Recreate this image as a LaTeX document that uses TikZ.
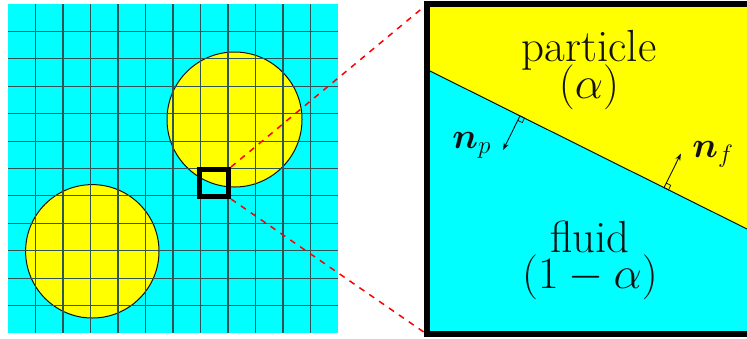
\RequirePackage{fix-cm}
\documentclass[tikz,border=0pt]{standalone}
\usepackage{tikz}
\usepackage{xcolor}
\usepackage{bm}
\usetikzlibrary{arrows.meta,calc}
\definecolor{Fluid}{HTML}{00FFFF}
\definecolor{Particle}{HTML}{FFFF00}
\definecolor{Ink}{HTML}{111111}
\definecolor{Mesh}{HTML}{2F5555}
\definecolor{Lens}{HTML}{FF0000}
\tikzset{
  mesh/.style={draw=Mesh,line width=0.55pt},
  grain/.style={fill=Particle,draw=Ink,line width=0.5pt},
  frame/.style={draw=black,line width=2.5pt,inner sep=0pt},
  lens/.style={draw=Lens,line width=0.75pt,dash pattern=on 3pt off 3pt},
  normal/.style={-{Stealth[length=3.5pt,width=2.6pt]},draw=Ink,line width=0.45pt},
  corner/.style={draw=Ink,line width=0.35pt},
  phase/.style={font=\fontsize{22.5}{26}\selectfont,text=Ink,inner sep=0pt,anchor=base},
  vec/.style={font=\fontsize{18}{21}\selectfont,text=Ink,inner sep=0pt,anchor=base west}
}

\begin{document}
\begin{tikzpicture}[x=0.5pt,y=-0.5pt]
  \useasboundingbox (0,0) rectangle (747,338);
  \clip (0,0) rectangle (747,338);
  % overview: mesh with two particles
  \fill[Fluid] (8,4) rectangle (338,333);
  \path[grain] (234.5,119.5) circle[radius=67.5];
  \path[grain] (92.3,251.3) circle[radius=66.7];
  \foreach \i in {1,...,11}{
    \draw[mesh] (8+27.5*\i,4) -- (8+27.5*\i,333);
    \draw[mesh] (8,4+27.42*\i) -- (338,4+27.42*\i);
  }
  \node[frame,minimum width=14.5pt,minimum height=13.5pt] (cell) at (214,183) {};
  % close-up of the cut cell
  \fill[Particle] (427,4.25) rectangle (757,334.25);
  \fill[Fluid] (427,69.5) -- (757,234) -- (757,334.25) -- (427,334.25) -- cycle;
  \draw[Ink,line width=0.5pt] (427,69.5) -- (757,234);
  \coordinate (np) at (520,115.9);
  \coordinate (nptip) at (503.1,149.9);
  \coordinate (nf) at (664,187.6);
  \coordinate (nftip) at (680.9,153.6);
  \draw[corner] (np) -- ++(4.5,2.2) -- ++(-2.2,4.5) -- ++(-4.5,-2.2);
  \draw[corner] (nf) -- ++(4.5,2.2) -- ++(2.2,-4.5) -- ++(-4.5,-2.2);
  \draw[normal] (np) -- (nptip);
  \draw[normal] (nf) -- (nftip);
  \node[vec] (nplabel) at (452,148) {$\bm{n}_p$};
  \node[vec] (nflabel) at (692,157) {$\bm{n}_f$};
  \node[phase] (particle) at (589,61.7) {particle};
  \node[phase] (particlefrac) at (589,98) {$(\alpha)$};
  \node[phase] (fluid) at (590,252) {fluid};
  \node[phase] (fluidfrac) at (590,288) {$(1-\alpha)$};
  \node[frame,line width=3pt,minimum width=165pt,minimum height=165pt,outer sep=0pt] (closeup) at (592,169.25) {};
  % zoom lines
  \draw[lens,shorten >=2pt] (cell.north east) -- (closeup.north west);
  \draw[lens,shorten >=2pt] (cell.south east) -- (closeup.south west);
\end{tikzpicture}
\end{document}
